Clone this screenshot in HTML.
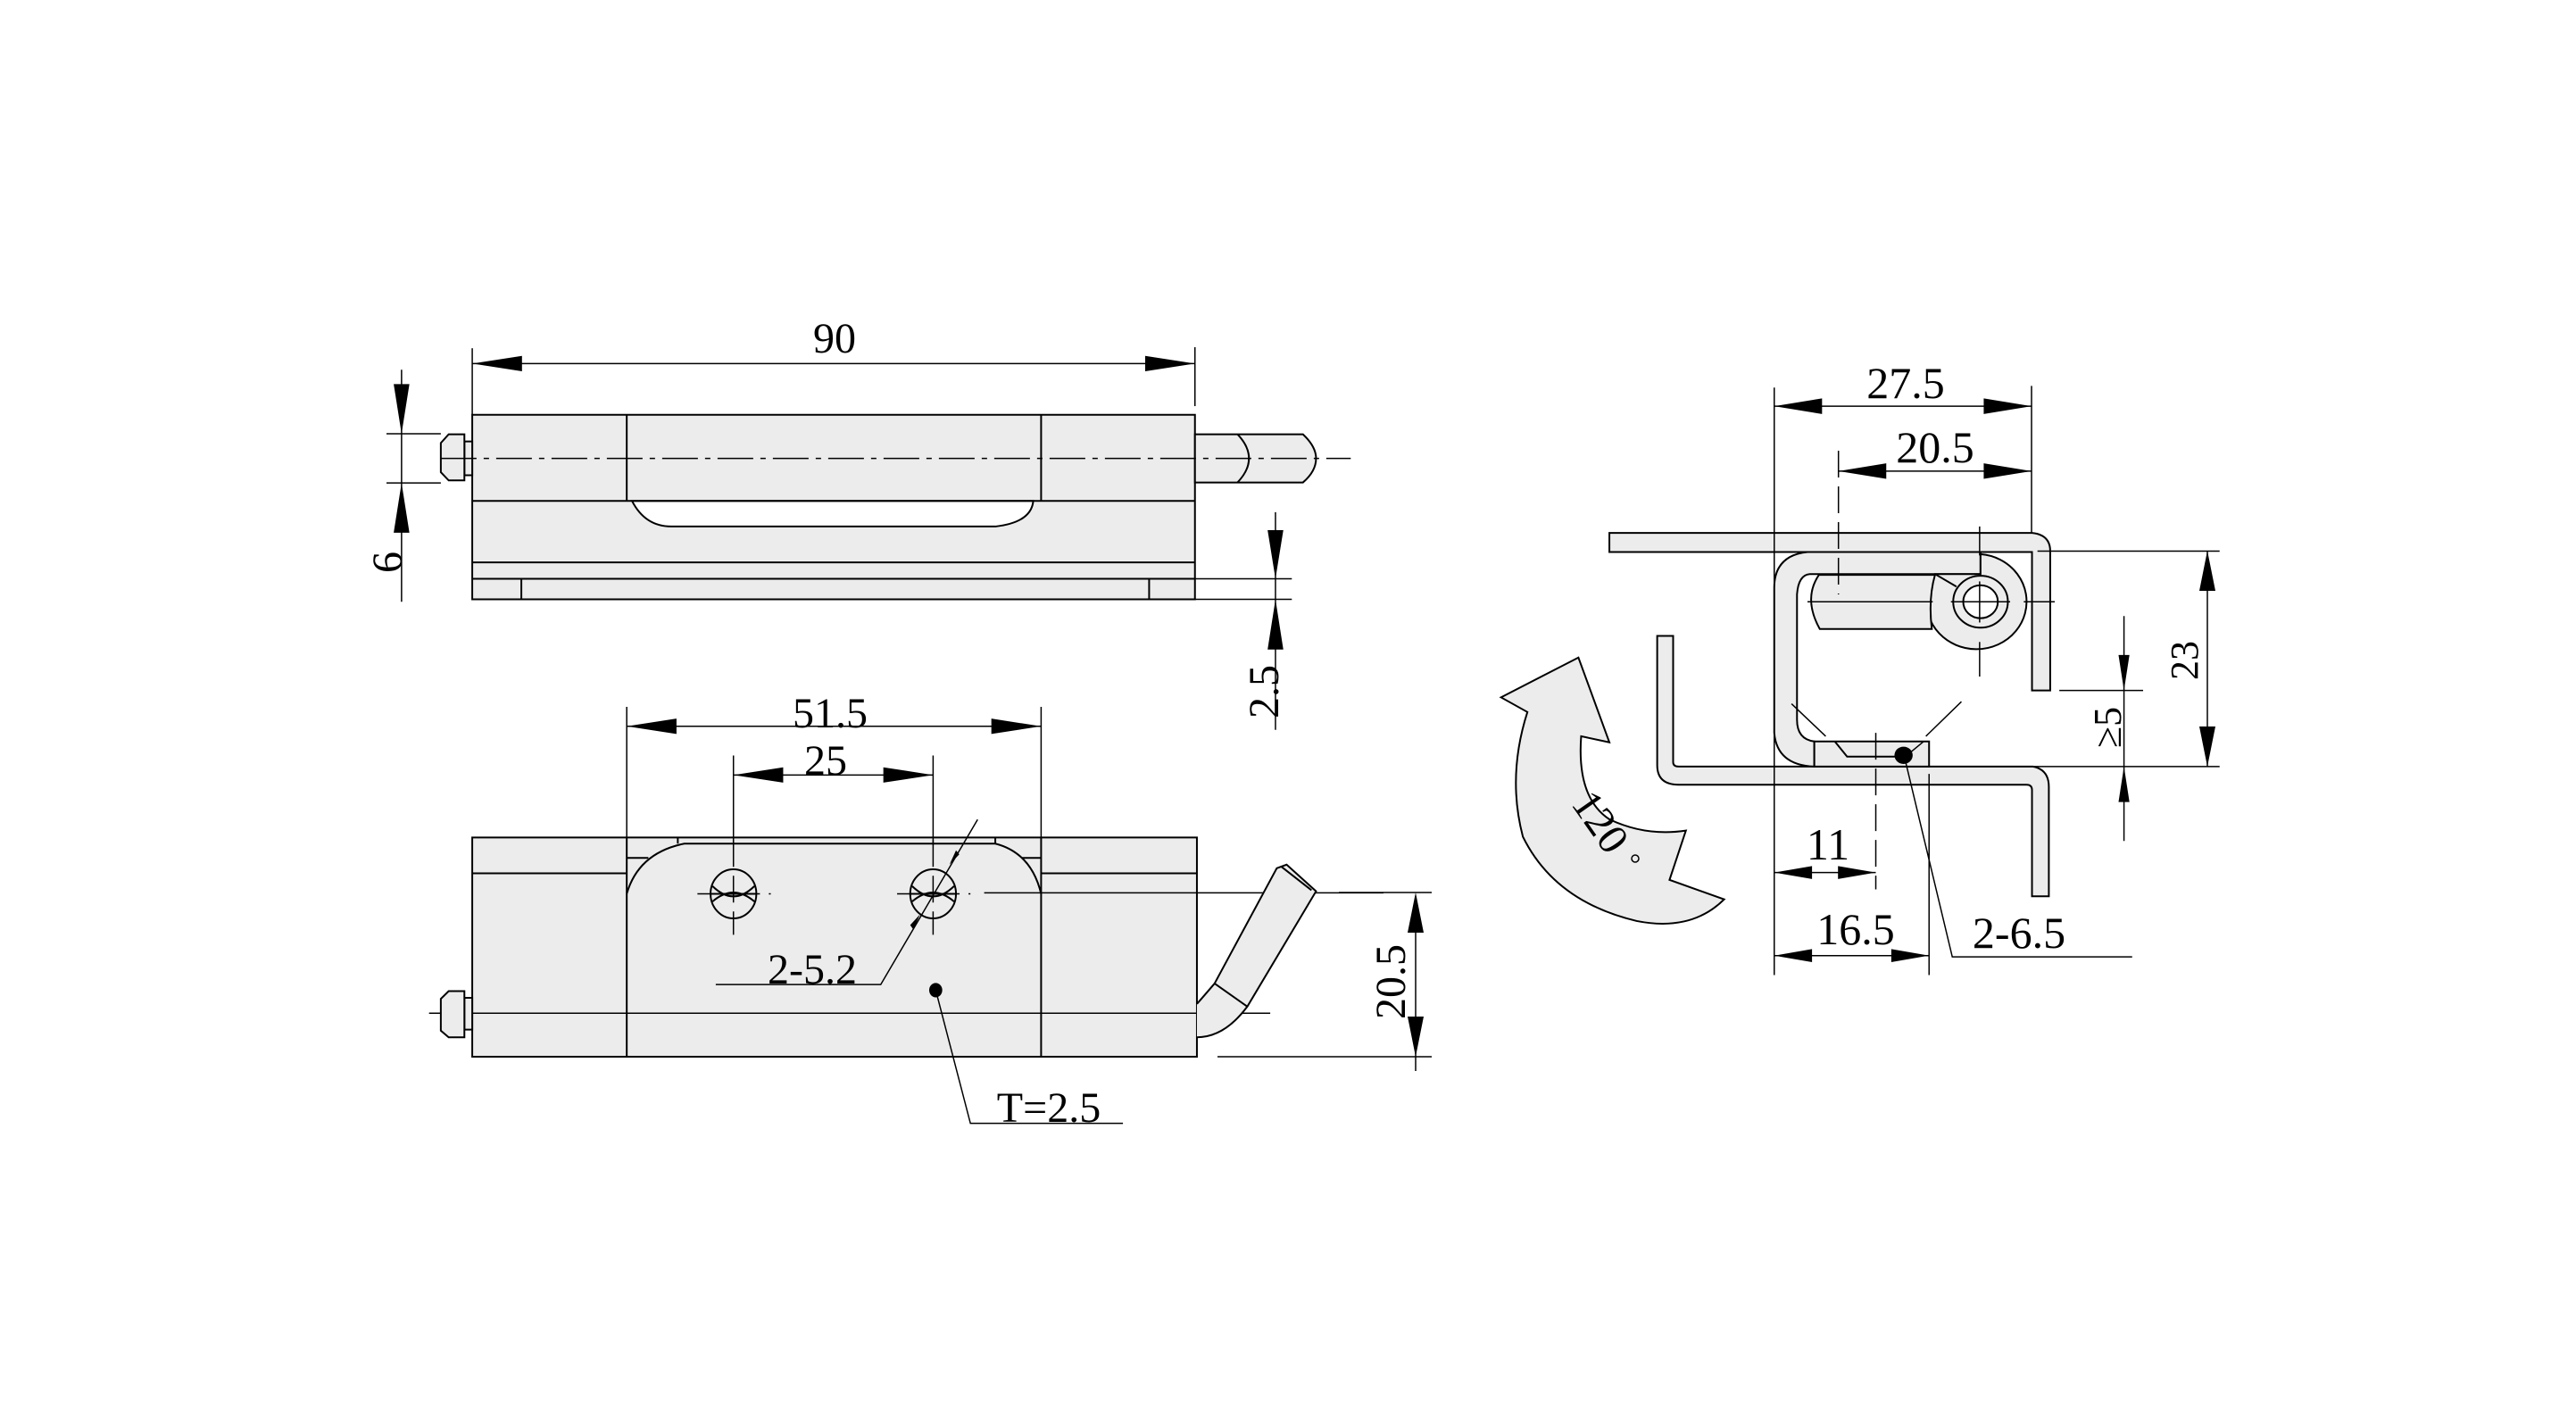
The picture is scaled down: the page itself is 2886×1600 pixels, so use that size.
<!DOCTYPE html>
<html><head><meta charset="utf-8"><style>
html,body{margin:0;padding:0;background:#fff}
svg{display:block}
text{font-family:"Liberation Serif",serif;fill:#000}
.s{fill:none;stroke:#000;stroke-width:2;vector-effect:non-scaling-stroke}
.f{fill:#ececec;stroke:#000;stroke-width:2;vector-effect:non-scaling-stroke}
.w{fill:#fff;stroke:#000;stroke-width:2;vector-effect:non-scaling-stroke}
.t{fill:none;stroke:#000;stroke-width:1.5;vector-effect:non-scaling-stroke}
.c{fill:none;stroke:#000;stroke-width:1.5;stroke-dasharray:40 8 6 8;vector-effect:non-scaling-stroke}
.d{fill:none;stroke:#000;stroke-width:1.5;stroke-dasharray:30 10;vector-effect:non-scaling-stroke}
.a{fill:#000;stroke:none}
</style></head><body>
<svg width="2886" height="1600" viewBox="0 0 2886 1600" xmlns="http://www.w3.org/2000/svg">
<rect width="2886" height="1600" fill="#fff"/>

<g transform="translate(400,350) scale(0.7334,0.574)">
  <rect class="f" x="176" y="200" width="1104" height="360"/>
  <path class="w" d="M420,368 Q440,418 480,418 L975,418 Q1030,410 1033,368 Z"/>
  <line class="s" x1="412" y1="200" x2="412" y2="368"/>
  <line class="s" x1="1045" y1="200" x2="1045" y2="368"/>
  <line class="s" x1="176" y1="368" x2="1280" y2="368"/>
  <line class="s" x1="176" y1="488" x2="1280" y2="488"/>
  <line class="s" x1="176" y1="520" x2="1280" y2="520"/>
  <line class="s" x1="251" y1="520" x2="251" y2="560"/>
  <line class="s" x1="1210" y1="520" x2="1210" y2="560"/>
  <rect class="f" x="164" y="252" width="12" height="66"/>
  <path class="f" d="M164,238 L140,238 L128,255 L128,312 L140,328 L164,328 Z"/>
  <path class="f" d="M1280,238 L1445,238 Q1465,262 1465,285 Q1465,310 1445,332 L1280,332 Z"/>
  <path class="s" d="M1345,238 Q1380,285 1345,332"/>
  <line class="c" x1="128" y1="285" x2="1518" y2="285"/>
  <line class="t" x1="176" y1="100" x2="1280" y2="100"/>
  <line class="t" x1="176" y1="70" x2="176" y2="200"/>
  <line class="t" x1="1280" y1="68" x2="1280" y2="183"/>
  <polygon class="a" points="176,100 252,85 252,115"/>
  <polygon class="a" points="1280,100 1204,85 1204,115"/>
  <line class="t" x1="68" y1="112" x2="68" y2="565"/>
  <line class="t" x1="45" y1="237" x2="128" y2="237"/>
  <line class="t" x1="45" y1="333" x2="128" y2="333"/>
  <polygon class="a" points="68,237 56,140 80,140"/>
  <polygon class="a" points="68,333 56,430 80,430"/>
  <line class="t" x1="1403" y1="390" x2="1403" y2="815"/>
  <line class="t" x1="1280" y1="520" x2="1428" y2="520"/>
  <line class="t" x1="1280" y1="560" x2="1428" y2="560"/>
  <polygon class="a" points="1403,520 1391,425 1415,425"/>
  <polygon class="a" points="1403,560 1391,658 1415,658"/>

  <rect class="f" x="176" y="1025" width="1107" height="428"/>
  <line class="s" x1="412" y1="1025" x2="412" y2="1453"/>
  <line class="s" x1="1045" y1="1025" x2="1045" y2="1453"/>
  <line class="s" x1="176" y1="1095" x2="412" y2="1095"/>
  <line class="s" x1="1045" y1="1095" x2="1283" y2="1095"/>
  <line class="s" x1="412" y1="1065" x2="445" y2="1065"/>
  <line class="s" x1="1012" y1="1065" x2="1045" y2="1065"/>
  <line class="s" x1="490" y1="1025" x2="490" y2="1037"/>
  <line class="s" x1="975" y1="1025" x2="975" y2="1037"/>
  <path class="f" d="M412,1135 Q430,1055 500,1037 L975,1037 Q1030,1055 1045,1135"/>
  <ellipse class="f" cx="575" cy="1135" rx="35" ry="48"/>
  <path class="s" d="M540,1135 L610,1135 M543,1150 Q575,1115 607,1150 M543,1120 Q575,1160 607,1120"/>
  <ellipse class="f" cx="880" cy="1135" rx="35" ry="48"/>
  <path class="s" d="M845,1135 L915,1135 M848,1150 Q880,1115 912,1150 M848,1120 Q880,1160 912,1120"/>
  <line class="d" x1="575" y1="1030" x2="575" y2="1215"/>
  <line class="d" x1="520" y1="1135" x2="632" y2="1135"/>
  <line class="d" x1="880" y1="1030" x2="880" y2="1215"/>
  <line class="d" x1="825" y1="1135" x2="937" y2="1135"/>
  <polyline class="t" points="948,990 800,1312 548,1312"/>
  <polygon class="a" points="905,1078 915,1050 920,1058"/>
  <polygon class="a" points="860,1175 850,1205 845,1196"/>
  <ellipse class="a" cx="884" cy="1323" rx="10" ry="14"/>
  <polyline class="t" points="884,1323 937,1583 1170,1583"/>
  <line class="t" x1="958" y1="1133" x2="1568" y2="1133"/>
  <line class="t" x1="110" y1="1368" x2="1395" y2="1368"/>
  <rect class="f" x="164" y="1338" width="12" height="62"/>
  <path class="f" d="M164,1325 L140,1325 L128,1340 L128,1402 L140,1415 L164,1415 Z"/>
  <path class="f" d="M1283,1350 Q1300,1325 1310,1310 L1405,1085 L1420,1078 L1465,1130 L1360,1355 Q1325,1415 1283,1415"/>
  <line class="s" x1="1310" y1="1310" x2="1360" y2="1355"/>
  <line class="s" x1="1412" y1="1082" x2="1458" y2="1128"/>
  <line class="t" x1="412" y1="808" x2="1045" y2="808"/>
  <line class="t" x1="412" y1="770" x2="412" y2="1025"/>
  <line class="t" x1="1045" y1="770" x2="1045" y2="1025"/>
  <polygon class="a" points="412,808 488,793 488,823"/>
  <polygon class="a" points="1045,808 969,793 969,823"/>
  <line class="t" x1="575" y1="903" x2="880" y2="903"/>
  <line class="t" x1="575" y1="865" x2="575" y2="1040"/>
  <line class="t" x1="880" y1="865" x2="880" y2="1040"/>
  <polygon class="a" points="575,903 651,888 651,918"/>
  <polygon class="a" points="880,903 804,888 804,918"/>
</g>
<line x1="1586" y1="1015" x2="1586" y2="1200" stroke="#000" stroke-width="1.5"/>
<line x1="1364" y1="1184" x2="1604" y2="1184" stroke="#000" stroke-width="1.5"/>
<line x1="1500" y1="1000" x2="1604" y2="1000" stroke="#000" stroke-width="1.5"/>
<polygon class="a" points="1586,1000 1577,1045 1595,1045"/>
<polygon class="a" points="1586,1184 1577,1139 1595,1139"/>

<text x="935" y="395" font-size="48" text-anchor="middle">90</text>
<text transform="translate(450,630) rotate(-90)" font-size="48" text-anchor="middle">6</text>
<text transform="translate(1432,775) rotate(-90)" font-size="48" text-anchor="middle">2.5</text>
<text x="930" y="815" font-size="48" text-anchor="middle">51.5</text>
<text x="925" y="868" font-size="48" text-anchor="middle">25</text>
<text x="910" y="1102" font-size="48" text-anchor="middle">2-5.2</text>
<text x="1175" y="1257" font-size="48" text-anchor="middle">T=2.5</text>
<text transform="translate(1574,1100) rotate(-90)" font-size="48" text-anchor="middle">20.5</text>

<g transform="translate(1650,380) scale(0.5102,0.4847)">
  <path class="f" d="M300,448 L1228,448 Q1268,452 1268,490 L1268,812 L1228,812 L1228,492 L300,492 Z"/>
  <path class="f" d="M405,686 L440,686 L440,978 Q440,988 452,988 L1230,988 Q1265,995 1265,1035 L1265,1288 L1228,1288 L1228,1042 Q1228,1030 1216,1030 L452,1030 Q405,1030 405,985 Z"/>
  <path class="f" d="M1115,492 L735,492 Q662,500 662,575 L662,910 Q668,985 750,988 L750,930 Q712,925 712,880 L712,590 Q715,545 740,543 L1115,543 Z"/>
  <path class="f" d="M1015,545 A110,110 0 1 0 1115,497 L1115,543 L1015,543 Z"/>
  <path class="f" d="M760,545 Q725,600 762,670 L1008,670 Q1000,600 1015,545 Z"/>
  <line class="s" x1="1015" y1="543" x2="1062" y2="572"/>
  <circle class="f" cx="1115" cy="607" r="60"/>
  <circle class="w" cx="1115" cy="607" r="38"/>
  <rect class="f" x="750" y="930" width="252" height="58"/>
  <polyline class="s" points="795,930 822,965 950,965"/>
  <line class="t" x1="700" y1="843" x2="775" y2="918"/>
  <line class="t" x1="1073" y1="838" x2="995" y2="918"/>
  <line class="t" x1="950" y1="965" x2="990" y2="930"/>
  <ellipse class="a" cx="946" cy="962" rx="20" ry="20"/>
  <line class="d" x1="803" y1="258" x2="803" y2="590"/>
  <line class="t" x1="1113" y1="433" x2="1113" y2="500"/>
  <line class="t" x1="1113" y1="560" x2="1113" y2="655"/>
  <line class="t" x1="1113" y1="700" x2="1113" y2="780"/>
  <line class="t" x1="735" y1="607" x2="1010" y2="607"/>
  <line class="t" x1="1050" y1="607" x2="1180" y2="607"/>
  <line class="t" x1="1210" y1="607" x2="1278" y2="607"/>
  <line class="d" x1="885" y1="910" x2="885" y2="1272"/>
  <line class="t" x1="662" y1="112" x2="662" y2="1470"/>
  <line class="t" x1="1227" y1="108" x2="1227" y2="448"/>
  <line class="t" x1="662" y1="155" x2="1227" y2="155"/>
  <polygon class="a" points="662,155 767,137 767,173"/>
  <polygon class="a" points="1227,155 1122,137 1122,173"/>
  <line class="t" x1="803" y1="305" x2="1227" y2="305"/>
  <polygon class="a" points="803,305 908,287 908,323"/>
  <polygon class="a" points="1227,305 1122,287 1122,323"/>
  <line class="t" x1="662" y1="1233" x2="885" y2="1233"/>
  <polygon class="a" points="662,1233 745,1218 745,1248"/>
  <polygon class="a" points="885,1233 802,1218 802,1248"/>
  <line class="t" x1="1002" y1="1005" x2="1002" y2="1470"/>
  <line class="t" x1="662" y1="1425" x2="1002" y2="1425"/>
  <polygon class="a" points="662,1425 745,1410 745,1440"/>
  <polygon class="a" points="1002,1425 919,1410 919,1440"/>
  <polyline class="t" points="950,975 1053,1428 1448,1428"/>
  <line class="t" x1="1240" y1="490" x2="1640" y2="490"/>
  <line class="t" x1="1002" y1="988" x2="1640" y2="988"/>
  <line class="t" x1="1288" y1="812" x2="1472" y2="812"/>
  <line class="t" x1="1430" y1="640" x2="1430" y2="1160"/>
  <polygon class="a" points="1430,812 1418,730 1442,730"/>
  <polygon class="a" points="1430,988 1418,1070 1442,1070"/>
  <path class="f" d="M62,828 L232,736 L300,932 L238,918 Q228,1060 300,1110 Q380,1150 468,1136 L432,1250 L552,1295 Q480,1370 360,1345 Q180,1300 110,1150 Q75,1010 120,862 Z"/>
</g>
<line x1="2473" y1="617" x2="2473" y2="859" stroke="#000" stroke-width="1.5"/>
<polygon class="a" points="2473,617 2464,662 2482,662"/>
<polygon class="a" points="2473,859 2464,814 2482,814"/>

<text x="2135" y="446" font-size="50" text-anchor="middle">27.5</text>
<text x="2168" y="518" font-size="50" text-anchor="middle">20.5</text>
<text x="2048" y="963" font-size="50" text-anchor="middle">11</text>
<text x="2079" y="1058" font-size="50" text-anchor="middle">16.5</text>
<text x="2262" y="1062" font-size="50" text-anchor="middle">2-6.5</text>
<text transform="translate(2376,815) rotate(-90)" font-size="44" text-anchor="middle">≥5</text>
<text transform="translate(2462,740) rotate(-90)" font-size="44" text-anchor="middle">23</text>
<text transform="translate(1780,930) rotate(55)" font-size="48" text-anchor="middle">120</text>
<circle cx="1832" cy="962" r="4" fill="none" stroke="#000" stroke-width="1.5"/>
</svg>
</body></html>
